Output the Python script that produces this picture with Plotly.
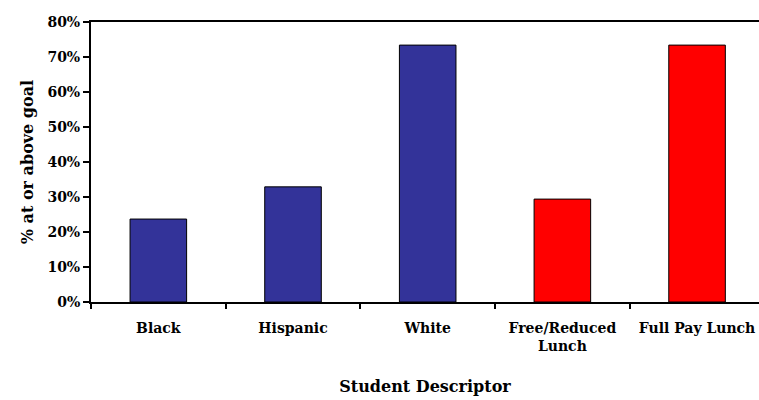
import plotly.graph_objects as go

categories = ["Black", "Hispanic", "White", "Free/Reduced<br>Lunch", "Full Pay Lunch"]
values = [23.7, 32.9, 73.4, 29.4, 73.4]
colors = ["#333399", "#333399", "#333399", "#FF0000", "#FF0000"]
tick_vals = [0, 10, 20, 30, 40, 50, 60, 70, 80]
tick_text = [f"<b>{v}%</b>" for v in tick_vals]

font = "DejaVu Serif"
cat_text = [f"<b>{c}</b>".replace("<br>", "</b><br><b>") for c in categories]

fig = go.Figure(go.Bar(
    x=cat_text, y=values,
    marker=dict(color=colors, line=dict(color="#000000", width=1)),
))

fig.update_layout(
    width=759, height=400,
    margin=dict(l=91, r=0, t=22, b=98),
    paper_bgcolor="white", plot_bgcolor="white",
    bargap=0.58,
    showlegend=False,
    font=dict(family=font, size=14, color="black"),
)
fig.update_xaxes(
    range=[-0.5, 4.46],
    showline=True, linecolor="black", linewidth=2, mirror=True,
    ticks="outside", tickson="boundaries", ticklen=5, tickwidth=2, tickcolor="black",
    tickfont=dict(family=font, size=14),
    ticklabelstandoff=12,
    title=dict(text="<b>Student Descriptor</b>", font=dict(family=font, size=16), standoff=28),
    showgrid=False,
)
fig.update_yaxes(
    range=[0, 80],
    tickvals=tick_vals, ticktext=tick_text,
    showline=True, linecolor="black", linewidth=2,
    ticks="outside", ticklen=6, tickwidth=2, tickcolor="black",
    tickfont=dict(family=font, size=14),
    title=dict(text="<b>% at or above goal</b>", font=dict(family=font, size=16), standoff=10),
    showgrid=False, zeroline=False,
)

fig.write_html("out.html")
